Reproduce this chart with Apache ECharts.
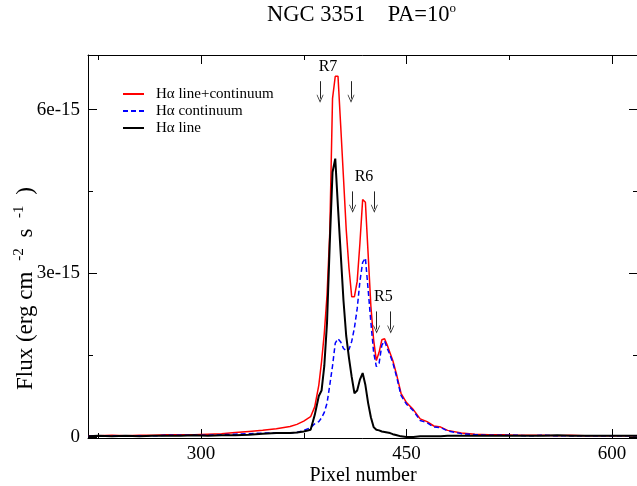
<!DOCTYPE html>
<html>
<head>
<meta charset="utf-8">
<script src="https://cdn.jsdelivr.net/npm/echarts@6/dist/echarts.min.js"></script>
<style>html,body{margin:0;padding:0;background:#fff}#c{width:637px;height:486px}</style>
</head>
<body>
<div id="c"></div>
<script>
// Pixel positions (x) shared by all three spectra
const pixel = [218,225,235,245,255,265,275,285,295,305,315,325,335,345,355,365,370,375,380,383,386,388,390,392,394,396,398,400,402,404,406,408,410,412,414,416,418,420,422,424,426,428,430,432,434,436,438,440,443,446,450,455,460,465,470,475,480,490,500,510,520,530,540,550,560,570,580,590,600,610,619];
// Flux in units of 1e-15 erg cm^-2 s^-1
const lineCont = [0.02,0.02,0.03,0.02,0.03,0.03,0.04,0.04,0.04,0.05,0.06,0.08,0.10,0.12,0.15,0.19,0.23,0.29,0.37,0.55,0.95,1.38,1.90,2.60,3.75,6.20,6.61,6.61,5.69,4.75,3.80,3.10,2.57,2.57,2.85,3.55,4.35,4.30,3.35,2.40,1.78,1.40,1.55,1.78,1.80,1.68,1.54,1.40,1.12,0.80,0.63,0.50,0.33,0.28,0.20,0.18,0.12,0.07,0.05,0.04,0.04,0.03,0.03,0.03,0.02,0.03,0.02,0.02,0.02,0.02,0.02];
const contOnly = [0.01,0.02,0.02,0.02,0.02,0.02,0.03,0.03,0.03,0.03,0.04,0.05,0.06,0.07,0.07,0.07,0.08,0.12,0.17,0.24,0.28,0.35,0.45,0.62,0.95,1.30,1.72,1.80,1.74,1.62,1.58,1.60,1.75,2.00,2.35,2.85,3.20,3.28,2.70,2.10,1.55,1.29,1.35,1.68,1.76,1.62,1.50,1.36,1.08,0.76,0.60,0.48,0.30,0.26,0.18,0.17,0.11,0.06,0.04,0.03,0.03,0.03,0.02,0.03,0.02,0.02,0.02,0.02,0.02,0.02,0.02];
const lineOnly = [0.01,0.02,0.01,0.02,0.01,0.02,0.02,0.02,0.03,0.02,0.03,0.03,0.04,0.06,0.07,0.07,0.08,0.10,0.13,0.40,0.75,0.85,1.30,2.10,3.55,4.85,5.10,4.20,3.35,2.50,1.85,1.45,1.10,0.80,0.85,1.05,1.17,0.95,0.62,0.36,0.18,0.13,0.12,0.10,0.09,0.08,0.07,0.05,0.03,0.01,0.00,0.00,0.01,0.01,0.01,0.01,0.02,0.02,0.02,0.02,0.02,0.02,0.02,0.02,0.03,0.02,0.02,0.02,0.02,0.02,0.02];

const seriesNames = ['H\u03b1 line+continuum','H\u03b1 continuum','H\u03b1 line'];
const xMajor = [300,450,600];
const xMinor = [225,375,525];
const yMajor = [0,3,6];
const yMinor = [1.5,4.5];

// Region annotations
const regionNames = ['R7','R6','R5'];
const regionX = [392.7,419.0,433.1];
const regionY = [6.79,4.77,2.56];
const arrowX = [386.9,409.5,410.7,426.5,428.2,438.5];
const arrowTop = [6.52,6.52,4.50,4.50,2.30,2.30];
const arrowEnd = [6.20,6.20,4.18,4.18,1.97,1.97];

const F = "'Liberation Serif','Times New Roman','DejaVu Serif',serif";
const toPairs = ys => pixel.map((x,i)=>[x,ys[i]]);

function xAx(pos, vals, len, major){
  return {type:'value', position:pos, min:217.5, max:619, gridIndex:0,
    axisLine:{show:major, onZero:false, lineStyle:{color:'#000',width:1}},
    axisTick:{show:true, inside:true, length:len, customValues:vals, lineStyle:{color:'#000',width:1}},
    axisLabel:{show:major && pos==='bottom', customValues:vals, fontFamily:F, fontSize:19, color:'#000', margin:7},
    splitLine:{show:false},
    name: (major && pos==='bottom') ? 'Pixel number' : '',
    nameLocation:'middle', nameGap:28, nameMoveOverlap:false,
    nameTextStyle:{fontFamily:F, fontSize:20, color:'#000'}
  };
}
function yAx(pos, vals, len, major){
  return {type:'value', position:pos, min:-0.02, max:7.0, gridIndex:0,
    axisLine:{show:major, onZero:false, lineStyle:{color:'#000',width:1}},
    axisTick:{show:true, inside:true, length:len, customValues:vals, lineStyle:{color:'#000',width:1}},
    axisLabel:{show:major && pos==='left', customValues:vals, fontFamily:F, fontSize:19, color:'#000', margin:8,
      formatter: v => v===0 ? '0' : v + 'e-15'},
    splitLine:{show:false},
    name: (major && pos==='left') ? 'Flux (erg cm {s|-2} s {s|-1} )' : '',
    nameLocation:'middle', nameGap:48, nameMoveOverlap:false,
    nameTextStyle:{fontFamily:F, fontSize:23, color:'#000', padding:[0,84,0,0],
      rich:{s:{fontFamily:F, fontSize:15, color:'#000', padding:[0,5,13,5]}}}
  };
}

const chart = echarts.init(document.getElementById('c'), null, {renderer:'canvas'});
const option = {
  animation:false,
  backgroundColor:'#fff',
  title:{text:'NGC 3351    PA=10{s|o}', left:262, top:-3,
    textStyle:{fontFamily:F, fontSize:22.5, fontWeight:'normal', color:'#000',
      rich:{s:{fontFamily:F, fontSize:13, color:'#000', padding:[0,0,14,0]}}}},
  legend:{orient:'vertical', left:122, top:86, padding:0, itemWidth:21, itemHeight:10, itemGap:1,
    itemStyle:{opacity:0},
    textStyle:{fontFamily:F, fontSize:15, color:'#000', lineHeight:16, padding:[0,0,0,7]},
    data:seriesNames},
  grid:{left:88, top:55, width:550, height:383, containLabel:false, outerBoundsMode:'none'},
  xAxis:[xAx('bottom',xMajor,9,true), xAx('bottom',xMinor,5,false), xAx('top',xMajor,9,true), xAx('top',xMinor,5,false)],
  yAxis:[yAx('left',yMajor,9,true), yAx('left',yMinor,5,false), yAx('right',yMajor,9,true), yAx('right',yMinor,5,false)],
  series:[
    {name:seriesNames[0], type:'line', data:toPairs(lineCont), symbol:'none', xAxisIndex:0, yAxisIndex:0,
      lineStyle:{color:'#ff0000', width:1.5}, itemStyle:{color:'#ff0000'}, z:2},
    {name:seriesNames[1], type:'line', data:toPairs(contOnly), symbol:'none', xAxisIndex:0, yAxisIndex:0,
      lineStyle:{color:'#0000ff', width:1.5, type:[5,3]}, itemStyle:{color:'#0000ff'}, z:3},
    {name:seriesNames[2], type:'line', data:toPairs(lineOnly), symbol:'none', xAxisIndex:0, yAxisIndex:0,
      lineStyle:{color:'#000', width:2}, itemStyle:{color:'#000'}, z:4,
      markPoint:{silent:true, symbol:'rect', symbolSize:1, itemStyle:{color:'rgba(0,0,0,0)'},
        label:{show:true, position:'inside', formatter:'{b}', fontFamily:F, fontSize:16, color:'#000'},
        data: regionNames.map((n,i)=>({name:n, coord:[regionX[i], regionY[i]]}))},
      markLine:{silent:true, animation:false,
        symbol:['none','path://M5,0 L10,10 L9,10 L5,2.5 L1,10 L0,10 Z'], symbolSize:[7,8],
        lineStyle:{color:'#222', width:1, type:'solid'}, label:{show:false},
        data: arrowX.map((x,i)=>[{coord:[x,arrowTop[i]]},{coord:[x,arrowEnd[i]]}])}
    }
  ]
};
chart.setOption(option);
</script>
</body>
</html>
